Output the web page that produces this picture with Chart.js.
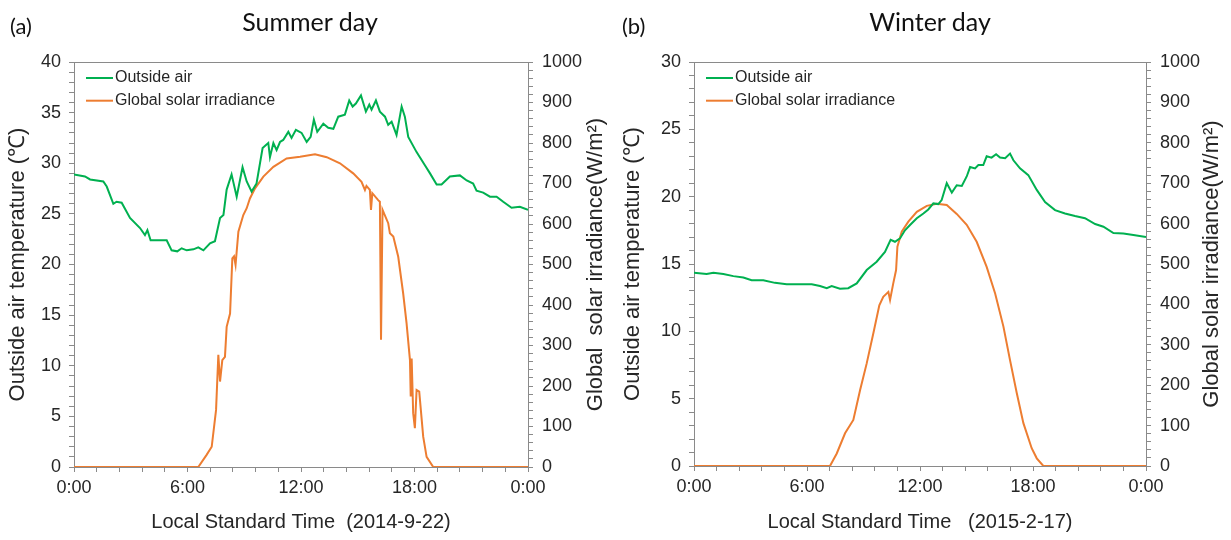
<!DOCTYPE html>
<html>
<head>
<meta charset="utf-8">
<title>Outside air temperature and global solar irradiance</title>
<script src="https://cdn.jsdelivr.net/npm/chart.js@4/dist/chart.umd.min.js"></script>
<style>
  html, body { margin: 0; padding: 0; background: #fff; }
  #wrap { position: relative; width: 1231px; height: 540px; overflow: hidden; }
  canvas { position: absolute; top: 0; }
  .tag, .head { position: absolute; font-family: Lato, "Noto Sans", sans-serif; color: #111; white-space: nowrap; }
  .tag { font-size: 22px; top: 12px; }
  .head { font-size: 25px; top: 6px; transform: translateX(-50%); }
</style>
</head>
<body>
<div id="wrap">
  <canvas id="summer" width="615" height="540" style="left:0"></canvas>
  <canvas id="winter" width="616" height="540" style="left:615px"></canvas>
  <div class="tag" style="left:10px">(a)</div>
  <div class="head" style="left:310px">Summer day</div>
  <div class="tag" style="left:622px">(b)</div>
  <div class="head" style="left:930px">Winter day</div>
</div>
<script>
// ---- Summer day (2014-9-22) ----
const summerAirHours = [
  0, 0.58, 0.85, 1.55, 1.73, 2.08, 2.25, 2.52, 2.96, 3.49,
  3.75, 3.88, 4.05, 4.55, 4.9, 5.16, 5.46, 5.69, 5.96, 6.31,
  6.57, 6.84, 7.19, 7.45, 7.72, 7.9, 8.07, 8.33, 8.6, 8.91,
  9.13, 9.39, 9.65, 9.97, 10.27, 10.36, 10.54, 10.71, 10.89, 11.06,
  11.33, 11.5, 11.73, 12.03, 12.3, 12.51, 12.68, 12.86, 13.18, 13.44,
  13.71, 13.97, 14.32, 14.55, 14.73, 14.9, 15.17, 15.43, 15.61, 15.73,
  15.96, 16.17, 16.44, 16.61, 16.79, 17.05, 17.32, 17.49, 17.67, 18.11,
  18.55, 18.82, 19.17, 19.43, 19.87, 20.4, 20.76, 21.1, 21.28, 21.63,
  21.99, 22.34, 22.69, 23.13, 23.57, 24
];
const summerAir = [
  28.9, 28.7, 28.4, 28.2, 27.7, 26.0, 26.2, 26.1, 24.6, 23.6,
  22.9, 23.4, 22.4, 22.4, 22.4, 21.4, 21.3, 21.6, 21.4, 21.5,
  21.7, 21.4, 22.1, 22.3, 24.6, 24.9, 27.4, 28.9, 26.7, 29.6,
  28.2, 27.2, 28.0, 31.5, 32.0, 30.6, 32.0, 31.3, 32.1, 32.3,
  33.1, 32.5, 33.3, 33.0, 32.1, 32.6, 34.3, 33.1, 33.9, 33.5,
  33.4, 34.6, 34.8, 36.2, 35.6, 35.9, 36.7, 35.1, 35.8, 35.3,
  36.2, 35.1, 34.6, 33.8, 34.1, 32.8, 35.6, 34.6, 32.6, 31.1,
  29.8, 29.0, 27.9, 27.9, 28.7, 28.8, 28.3, 28.0, 27.3, 27.1,
  26.7, 26.7, 26.2, 25.6, 25.7, 25.4
];
const summerSunHours = [
  0, 6.57, 7.01, 7.28, 7.51, 7.63, 7.72, 7.84, 7.98, 8.07,
  8.25, 8.37, 8.46, 8.54, 8.69, 8.95, 9.13, 9.3, 9.57, 10.01,
  10.54, 11.24, 11.95, 12.74, 13.36, 14.06, 14.76, 15.2, 15.38, 15.46,
  15.64, 15.7, 15.77, 16.08, 16.17, 16.23, 16.31, 16.61, 16.7, 16.88,
  17.14, 17.4, 17.58, 17.76, 17.8, 17.85, 17.93, 18.02, 18.11, 18.25,
  18.46, 18.64, 18.99, 24
];
const summerSun = [
  0, 0, 30, 50, 141, 277, 211, 264, 272, 346,
  379, 515, 520, 499, 581, 622, 639, 663, 688, 717,
  741, 762, 766, 772, 765, 750, 725, 704, 684, 694,
  684, 635, 676, 659, 655, 314, 635, 602, 577, 569,
  519, 429, 355, 264, 174, 268, 133, 96, 190, 186,
  75, 25, 0, 0
];

// ---- Winter day (2015-2-17) ----
const winterAirHours = [
  0, 0.67, 1.03, 1.56, 2.09, 2.62, 3.06, 3.68, 4.3, 4.92,
  5.63, 6.25, 6.69, 7.05, 7.31, 7.75, 8.19, 8.64, 9.17, 9.7,
  10.14, 10.44, 10.67, 10.94, 11.2, 11.47, 11.83, 12.18, 12.44, 12.71,
  12.97, 13.15, 13.42, 13.69, 13.95, 14.22, 14.48, 14.66, 14.92, 15.1,
  15.36, 15.54, 15.8, 16.04, 16.25, 16.52, 16.78, 16.96, 17.31, 17.75,
  18.2, 18.64, 19.17, 19.7, 20.23, 20.76, 21.3, 21.74, 22.27, 22.8,
  23.33, 24
];
const winterAir = [
  14.35, 14.25, 14.35, 14.25, 14.1, 14.0, 13.8, 13.8, 13.6, 13.5,
  13.5, 13.5, 13.36, 13.2, 13.36, 13.16, 13.2, 13.56, 14.55, 15.17,
  15.9, 16.8, 16.65, 16.9, 17.5, 17.9, 18.4, 18.75, 19.05, 19.5,
  19.45, 19.75, 21.0, 20.3, 20.85, 20.8, 21.5, 22.2, 22.1, 22.35,
  22.35, 23.0, 22.9, 23.15, 22.9, 22.85, 23.2, 22.7, 22.1, 21.6,
  20.5, 19.6, 19.0, 18.75, 18.56, 18.4, 17.97, 17.77, 17.3, 17.27,
  17.15, 17.0
];
const winterSunHours = [
  0, 7.22, 7.58, 8.02, 8.46, 8.82, 9.17, 9.52, 9.84, 10.05,
  10.32, 10.41, 10.58, 10.73, 10.8, 11.03, 11.38, 11.83, 12.36, 12.89,
  13.42, 13.95, 14.48, 15.01, 15.54, 15.99, 16.43, 16.78, 17.14, 17.49,
  17.93, 18.2, 18.55, 24
];
const winterSun = [
  0, 0, 31, 81, 114, 188, 254, 328, 398, 419,
  431, 411, 452, 485, 543, 580, 605, 629, 644, 649,
  646, 624, 597, 555, 493, 427, 345, 262, 180, 106,
  44, 19, 0, 0
];

const GREEN = '#00b050';
const ORANGE = '#ed7d31';
const AXIS_GREY = '#8a8a8a';
const FONT = '"Liberation Sans", Arial, sans-serif';

Chart.defaults.font.family = FONT;
Chart.defaults.color = '#262626';

const points = (hours, values) => hours.map((h, i) => ({ x: h, y: values[i] }));

// top edge of the frame, in-plot legend and the bottom-to-top title of the right axis
const frameAndLegend = {
  id: 'frameAndLegend',
  afterDatasetsDraw(chart, args, opts) {
    const { ctx, chartArea: a } = chart;
    ctx.save();
    ctx.strokeStyle = AXIS_GREY;
    ctx.lineWidth = 1;
    ctx.beginPath();
    ctx.moveTo(a.left, Math.round(a.top) + 0.5);
    ctx.lineTo(a.right, Math.round(a.top) + 0.5);
    ctx.stroke();

    ctx.font = '16px ' + FONT;
    ctx.textBaseline = 'middle';
    chart.data.datasets.forEach((ds, i) => {
      const y = a.top + 16 + i * 22.7;
      ctx.strokeStyle = ds.borderColor;
      ctx.lineWidth = 2;
      ctx.beginPath();
      ctx.moveTo(a.left + 12, y);
      ctx.lineTo(a.left + 39, y);
      ctx.stroke();
      ctx.fillStyle = '#262626';
      ctx.fillText(ds.label, a.left + 41, y);
    });

    const y1 = chart.scales.y1;
    ctx.translate(y1.right - 19, (a.top + a.bottom) / 2);
    ctx.rotate(-Math.PI / 2);
    ctx.textAlign = 'center';
    ctx.font = '22px ' + FONT;
    ctx.fillStyle = '#262626';
    ctx.fillText(opts.rightTitle, 0, 0);
    ctx.restore();
  }
};

function panel(id, o) {
  const grid = { drawOnChartArea: false, tickLength: 5, color: AXIS_GREY };
  const border = { color: AXIS_GREY, width: 1 };
  return new Chart(document.getElementById(id), {
    type: 'line',
    data: {
      datasets: [
        { label: 'Outside air', data: points(o.airHours, o.air), borderColor: GREEN, yAxisID: 'y' },
        { label: 'Global solar irradiance', data: points(o.sunHours, o.sun), borderColor: ORANGE, yAxisID: 'y1' }
      ]
    },
    options: {
      responsive: false,
      animation: false,
      devicePixelRatio: 1,
      elements: { point: { radius: 0 }, line: { borderWidth: 2, tension: 0 } },
      layout: { padding: { top: 62, left: 0, right: 0, bottom: 0 } },
      plugins: {
        legend: { display: false },
        tooltip: { enabled: false },
        frameAndLegend: { rightTitle: o.rightTitle }
      },
      scales: {
        x: {
          type: 'linear', min: 0, max: 24,
          grid, border,
          ticks: {
            stepSize: 1.2, autoSkip: false, maxRotation: 0, padding: 5,
            font: { size: 18 },
            callback: v => {
              const h = Math.round(v);
              return Math.abs(v - h) < 1e-6 && h % 6 === 0 ? (h % 24) + ':00' : '';
            }
          },
          title: { display: true, text: o.xTitle, font: { size: 20 }, padding: { top: 2, bottom: 6 } },
          afterFit: s => { s.height = o.bottom; }
        },
        y: {
          position: 'left', min: 0, max: o.tMax,
          grid, border,
          ticks: {
            stepSize: 1, autoSkip: false, maxTicksLimit: 200, padding: 8,
            font: { size: 18 },
            callback: v => (v % 5 === 0 ? v : '')
          },
          title: { display: true, text: 'Outside air temperature (℃)', font: { size: 22 }, padding: { top: 5, bottom: 0 } },
          afterFit: s => { s.width = o.left; }
        },
        y1: {
          position: 'right', min: 0, max: 1000,
          grid, border,
          ticks: {
            stepSize: 20, autoSkip: false, maxTicksLimit: 200, padding: 9,
            font: { size: 18 },
            callback: v => (v % 100 === 0 ? v : '')
          },
          afterFit: s => { s.width = o.right; }
        }
      }
    },
    plugins: [frameAndLegend]
  });
}

panel('summer', {
  airHours: summerAirHours, air: summerAir,
  sunHours: summerSunHours, sun: summerSun,
  tMax: 40, left: 74, right: 87, bottom: 73,
  xTitle: 'Local Standard Time  (2014-9-22)',
  rightTitle: 'Global  solar irradiance(W/m²)'
});

panel('winter', {
  airHours: winterAirHours, air: winterAir,
  sunHours: winterSunHours, sun: winterSun,
  tMax: 30, left: 79, right: 85, bottom: 74,
  xTitle: 'Local Standard Time   (2015-2-17)',
  rightTitle: 'Global solar irradiance(W/m²)'
});
</script>
</body>
</html>
